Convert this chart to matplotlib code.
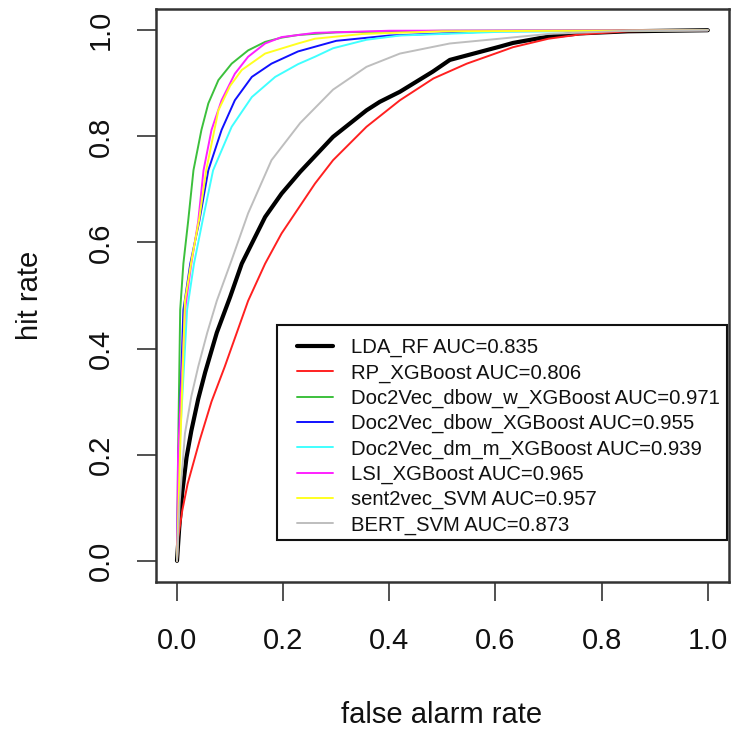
import matplotlib
matplotlib.use("Agg")
import matplotlib.pyplot as plt
from matplotlib.patches import Rectangle

plt.rcParams["font.family"] = ["Liberation Sans", "DejaVu Sans"]

# ROC curves: false alarm rate (x) vs hit rate (y)
lda_rf_x = [0, 0.004, 0.010, 0.018, 0.027, 0.040, 0.053, 0.075, 0.100, 0.122, 0.166, 0.197, 0.232, 0.294, 0.357, 0.382, 0.42, 0.482, 0.514, 0.608, 0.633, 0.70, 0.759, 0.85, 1.0]
lda_rf_y = [0, 0.060, 0.130, 0.195, 0.245, 0.305, 0.355, 0.430, 0.497, 0.560, 0.648, 0.692, 0.733, 0.799, 0.849, 0.865, 0.884, 0.922, 0.944, 0.969, 0.976, 0.988, 0.994, 0.998, 1.0]

rp_xgb_x = [0, 0.0025, 0.01, 0.02, 0.043, 0.065, 0.09, 0.134, 0.166, 0.197, 0.26, 0.294, 0.357, 0.42, 0.483, 0.546, 0.608, 0.633, 0.70, 0.759, 0.85, 1.0]
rp_xgb_y = [0, 0.046, 0.095, 0.145, 0.228, 0.300, 0.366, 0.490, 0.560, 0.617, 0.711, 0.755, 0.818, 0.868, 0.909, 0.937, 0.959, 0.968, 0.984, 0.992, 0.998, 1.0]

d2v_dbow_w_x = [0, 0.002, 0.006, 0.012, 0.021, 0.031, 0.046, 0.059, 0.078, 0.103, 0.134, 0.166, 0.197, 0.228, 0.30, 0.50, 1.0]
d2v_dbow_w_y = [0, 0.200, 0.473, 0.560, 0.640, 0.736, 0.812, 0.862, 0.906, 0.937, 0.962, 0.978, 0.986, 0.991, 0.996, 0.999, 1.0]

d2v_dbow_x = [0, 0.003, 0.012, 0.025, 0.042, 0.059, 0.084, 0.109, 0.141, 0.178, 0.228, 0.30, 0.40, 0.60, 1.0]
d2v_dbow_y = [0, 0.200, 0.473, 0.560, 0.640, 0.736, 0.812, 0.868, 0.912, 0.937, 0.960, 0.980, 0.990, 0.998, 1.0]

d2v_dm_m_x = [0, 0.004, 0.019, 0.032, 0.048, 0.068, 0.103, 0.141, 0.185, 0.228, 0.26, 0.294, 0.357, 0.42, 0.608, 1.0]
d2v_dm_m_y = [0, 0.200, 0.473, 0.560, 0.640, 0.736, 0.818, 0.874, 0.912, 0.936, 0.950, 0.966, 0.982, 0.990, 0.997, 1.0]

lsi_xgb_x = [0, 0.002, 0.015, 0.027, 0.040, 0.050, 0.065, 0.084, 0.109, 0.134, 0.166, 0.197, 0.26, 0.40, 1.0]
lsi_xgb_y = [0, 0.200, 0.473, 0.560, 0.640, 0.736, 0.812, 0.868, 0.918, 0.950, 0.975, 0.987, 0.995, 0.999, 1.0]

sent2vec_x = [0, 0.006, 0.015, 0.028, 0.042, 0.055, 0.068, 0.078, 0.10, 0.122, 0.166, 0.228, 0.26, 0.35, 0.50, 1.0]
sent2vec_y = [0, 0.210, 0.490, 0.570, 0.645, 0.736, 0.800, 0.849, 0.895, 0.925, 0.956, 0.975, 0.984, 0.993, 0.998, 1.0]

bert_x = [0, 0.005, 0.015, 0.027, 0.040, 0.057, 0.075, 0.103, 0.134, 0.178, 0.232, 0.294, 0.357, 0.42, 0.514, 0.608, 0.70, 0.85, 1.0]
bert_y = [0, 0.110, 0.240, 0.310, 0.366, 0.430, 0.490, 0.567, 0.655, 0.755, 0.825, 0.888, 0.931, 0.956, 0.975, 0.984, 0.993, 0.999, 1.0]

labels = [
    "LDA_RF AUC=0.835",
    "RP_XGBoost AUC=0.806",
    "Doc2Vec_dbow_w_XGBoost AUC=0.971",
    "Doc2Vec_dbow_XGBoost AUC=0.955",
    "Doc2Vec_dm_m_XGBoost AUC=0.939",
    "LSI_XGBoost AUC=0.965",
    "sent2vec_SVM AUC=0.957",
    "BERT_SVM AUC=0.873",
]
series = [
    (lda_rf_x, lda_rf_y),
    (rp_xgb_x, rp_xgb_y),
    (d2v_dbow_w_x, d2v_dbow_w_y),
    (d2v_dbow_x, d2v_dbow_y),
    (d2v_dm_m_x, d2v_dm_m_y),
    (lsi_xgb_x, lsi_xgb_y),
    (sent2vec_x, sent2vec_y),
    (bert_x, bert_y),
]
colors = ["#000000", "#FF2020", "#3CC03C", "#1010FF", "#40FFFF", "#FF20FF", "#FFFF20", "#BEBEBE"]
widths = [3.0, 1.4, 1.4, 1.4, 1.4, 1.4, 1.4, 1.4]
ticks = [0.0, 0.2, 0.4, 0.6, 0.8, 1.0]

fig = plt.figure(figsize=(7.32, 7.31), dpi=100)
ax = fig.add_axes([0.2128, 0.2038, 0.7831, 0.7839])

handles = []
for (xs, ys), c, lw, lab in zip(series, colors, widths, labels):
    h, = ax.plot(xs, ys, color=c, lw=lw, label=lab, solid_capstyle="round",
                 solid_joinstyle="round")
    handles.append(h)

ax.set_xlim(-0.04, 1.04)
ax.set_ylim(-0.04, 1.04)
ax.set_xticks(ticks)
ax.set_yticks(ticks)
ax.set_xticklabels([f"{t:.1f}" for t in ticks])
ax.set_yticklabels([f"{t:.1f}" for t in ticks], rotation=90, va="center")
ax.tick_params(axis="both", length=13.5, width=1.2, color="#333333",
               labelsize=21, labelcolor="#111111", pad=19)
ax.tick_params(axis="y", pad=16)
for s in ax.spines.values():
    s.set_linewidth(1.8)
    s.set_color("#333333")

fig.text(442 / 732, 1 - 715 / 731, "false alarm rate", ha="center", va="center",
         fontsize=21, color="#111111")
fig.text(30 / 732, 1 - 295 / 731, "hit rate", ha="center", va="center",
         rotation=90, fontsize=21, color="#111111")

# legend box, bottom right of the plot
ax.add_patch(Rectangle((0.188, 0.040), 1.036 - 0.188, 0.444 - 0.040,
                       transform=ax.transData, fill=False, ec="#111111",
                       lw=1.5, zorder=5))
ax.add_patch(Rectangle((0.188, 0.040), 1.036 - 0.188, 0.444 - 0.040,
                       transform=ax.transData, fill=True, fc="white",
                       ec="none", zorder=4))
leg = ax.legend(handles=handles, loc="upper left", bbox_to_anchor=(0.226, 0.420),
                bbox_transform=ax.transData, frameon=False, borderpad=0,
                borderaxespad=0, fontsize=14.6, handlelength=1.8,
                handletextpad=0.85, labelspacing=0.3)
leg.set_zorder(6)
for t in leg.get_texts():
    t.set_color("#111111")

fig.savefig("out.png", dpi=100)
